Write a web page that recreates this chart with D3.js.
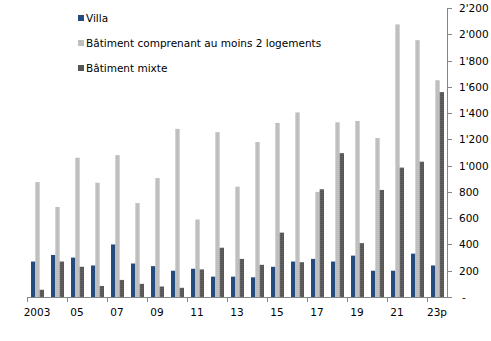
<!DOCTYPE html>
<html><head><meta charset="utf-8">
<script src="https://cdn.jsdelivr.net/npm/d3@7"></script>
<style>body{margin:0;background:#fff}svg{display:block}</style>
</head><body>
<svg id="c" width="491" height="341"></svg>
<script>
const years = ["2003","04","05","06","07","08","09","10","11","12","13","14","15","16","17","18","19","20","21","22","23p"];
const tickLabels = ["2003","05","07","09","11","13","15","17","19","21","23p"];
const seriesNames = ["Villa","Bâtiment comprenant au moins 2 logements","Bâtiment mixte"];
const villa  = [270,320,300,240,400,255,235,200,215,155,155,150,230,270,290,270,315,200,200,330,240];
const plus2  = [875,685,1060,870,1080,715,905,1280,590,1255,840,1180,1325,1405,800,1330,1340,1210,2075,1955,1650];
const mixte  = [55,270,230,84,130,100,80,70,210,375,290,245,490,265,820,1095,410,815,985,1030,1560];
const yTicks = [0,200,400,600,800,1000,1200,1400,1600,1800,2000,2200];
const colors = ["#254a80","#bfbfbf","#565656"];

const svg = d3.select("#c");
const font = "DejaVu Sans, Verdana, sans-serif";
const x = d3.scaleBand().domain(years).range([27,447]).paddingInner(0).paddingOuter(0);
const y = d3.scaleLinear().domain([0,2200]).range([297,8]);
const inner = d3.scaleBand().domain([0,1,2]).range([4, x.bandwidth()-3]);

const data = [villa, plus2, mixte];
const defs = svg.append("defs");
const pat = defs.append("pattern").attr("id","dots").attr("width",2).attr("height",2).attr("patternUnits","userSpaceOnUse");
pat.append("rect").attr("width",2).attr("height",2).attr("fill",colors[2]);
pat.append("rect").attr("width",1).attr("height",1).attr("fill","#6a6a6a");

data.forEach((vals,si)=>{
  svg.append("g").selectAll("rect").data(vals).join("rect")
    .attr("x",(d,i)=>x(years[i])+inner(si))
    .attr("width",inner.bandwidth())
    .attr("y",d=>y(d))
    .attr("height",d=>y(0)-y(d))
    .attr("fill", si===2 ? "url(#dots)" : colors[si]);
});

// x axis
const ax = svg.append("g").attr("stroke","#868686");
ax.append("line").attr("x1",27).attr("x2",447).attr("y1",297.5).attr("y2",297.5);
for (let i=0;i<=years.length;i+=2){
  const xx = (i<years.length? x(years[i]) : 447)+0.5;
  ax.append("line").attr("x1",xx).attr("x2",xx).attr("y1",297).attr("y2",302);
}
svg.append("g").selectAll("text").data(tickLabels).join("text")
  .attr("x",(d,i)=>x(years[i*2])+x.bandwidth()/2)
  .attr("y",316).attr("text-anchor","middle")
  .attr("font-family",font).attr("font-size",10.5).attr("fill","#000").text(d=>d);

// y axis (right)
const yg = svg.append("g").attr("stroke","#868686");
yg.append("line").attr("x1",447.5).attr("x2",447.5).attr("y1",8).attr("y2",297);
yTicks.forEach(t=>{
  yg.append("line").attr("x1",447).attr("x2",452).attr("y1",Math.round(y(t))+0.5).attr("y2",Math.round(y(t))+0.5);
});
const fmt = v => v===0 ? "-" : (v>=1000 ? Math.floor(v/1000)+"'"+String(v%1000).padStart(3,"0") : String(v));
svg.append("g").selectAll("text").data(yTicks).join("text")
  .attr("x",d=>d===0?462:459).attr("y",d=>y(d)+4)
  .attr("font-family",font).attr("font-size",10.5).attr("fill","#000").text(fmt);

// legend
const lg = svg.append("g");
seriesNames.forEach((n,i)=>{
  const cy = 18 + i*25;
  lg.append("rect").attr("x",78).attr("y",cy-3).attr("width",6).attr("height",6).attr("fill",colors[i]);
  lg.append("text").attr("x",86).attr("y",cy+4).attr("font-family",font).attr("font-size",10.5).attr("fill","#000").text(n);
});
</script>
</body></html>
